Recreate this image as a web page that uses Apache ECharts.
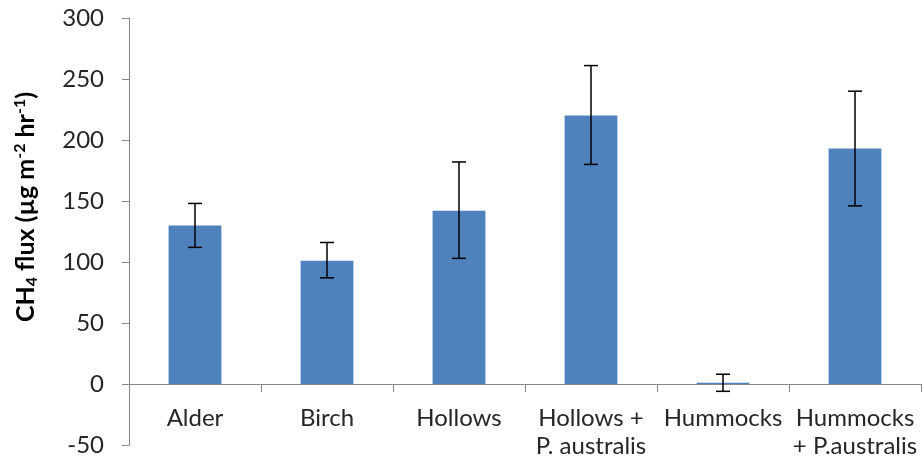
<!DOCTYPE html>
<html>
<head>
<meta charset="utf-8">
<script src="https://cdn.jsdelivr.net/npm/echarts@6/dist/echarts.min.js"></script>
<style>html,body{margin:0;padding:0;background:#fff}#c{width:922px;height:464px}</style>
</head>
<body>
<div id="c"></div>
<script>
var categories = ['Alder', 'Birch', 'Hollows', 'Hollows +\nP. australis', 'Hummocks', 'Hummocks\n+ P.australis'];
var fluxMean = [130, 101, 142, 220, 1, 193];
var errLow = [112, 87, 103, 180, -6, 146];
var errHigh = [148, 116, 182, 261, 8, 240];
var yTicks = {min: -50, max: 300, interval: 50};

var FONT = 'Lato';
var chart = echarts.init(document.getElementById('c'), null, {renderer: 'canvas'});
var errData = categories.map(function (c, i) { return [i, errLow[i], errHigh[i]]; });

chart.setOption({
  animation: false,
  backgroundColor: '#fff',
  grid: {left: 129, right: 1, top: 18, bottom: 19, containLabel: false, outerBoundsMode: 'none'},
  xAxis: {
    type: 'category',
    data: categories,
    position: 'bottom',
    offset: -61,
    axisLine: {onZero: false, lineStyle: {color: '#868686', width: 1}},
    axisTick: {show: true, length: 8, lineStyle: {color: '#868686'}, alignWithLabel: false},
    axisLabel: {color: '#262626', fontFamily: FONT, fontSize: 24, margin: 20, lineHeight: 28, interval: 0, hideOverlap: false}
  },
  yAxis: {
    type: 'value',
    min: yTicks.min, max: yTicks.max, interval: yTicks.interval,
    splitLine: {show: false},
    axisLine: {show: true, lineStyle: {color: '#868686', width: 1}},
    axisTick: {show: true, length: 7, lineStyle: {color: '#868686'}},
    axisLabel: {color: '#262626', fontFamily: FONT, fontSize: 24, margin: 25}
  },
  graphic: [{
    type: 'text',
    x: 26, y: 207,
    rotation: Math.PI / 2,
    style: {
      text: '{b|CH}{sub|4}{b| flux (µg m}{sup|-2}{b| hr}{sup|-1}{b|)}',
      textAlign: 'center',
      textVerticalAlign: 'middle',
      rich: {
        b: {fontFamily: FONT, fontWeight: 'bold', fontSize: 25, fill: '#000', lineHeight: 32, verticalAlign: 'middle'},
        sub: {fontFamily: FONT, fontWeight: 'bold', fontSize: 16, fill: '#000', lineHeight: 32, verticalAlign: 'bottom', padding: [0, 0, 2, 0]},
        sup: {fontFamily: FONT, fontWeight: 'bold', fontSize: 16, fill: '#000', lineHeight: 32, verticalAlign: 'top', padding: [2, 0, 0, 0]}
      }
    }
  }],
  series: [{
    type: 'bar',
    data: fluxMean,
    barWidth: '40%',
    itemStyle: {color: '#4F81BD'},
    z: 2
  }, {
    type: 'custom',
    data: errData,
    z: 5,
    renderItem: function (params, api) {
      var x = api.value(0);
      var lo = api.coord([x, api.value(1)]);
      var hi = api.coord([x, api.value(2)]);
      var hw = 7;
      var st = {stroke: '#000', lineWidth: 1.5};
      return {type: 'group', children: [
        {type: 'line', shape: {x1: lo[0], y1: lo[1], x2: hi[0], y2: hi[1]}, style: st},
        {type: 'line', shape: {x1: lo[0] - hw, y1: lo[1], x2: lo[0] + hw, y2: lo[1]}, style: st},
        {type: 'line', shape: {x1: hi[0] - hw, y1: hi[1], x2: hi[0] + hw, y2: hi[1]}, style: st}
      ]};
    }
  }]
});
</script>
</body>
</html>
